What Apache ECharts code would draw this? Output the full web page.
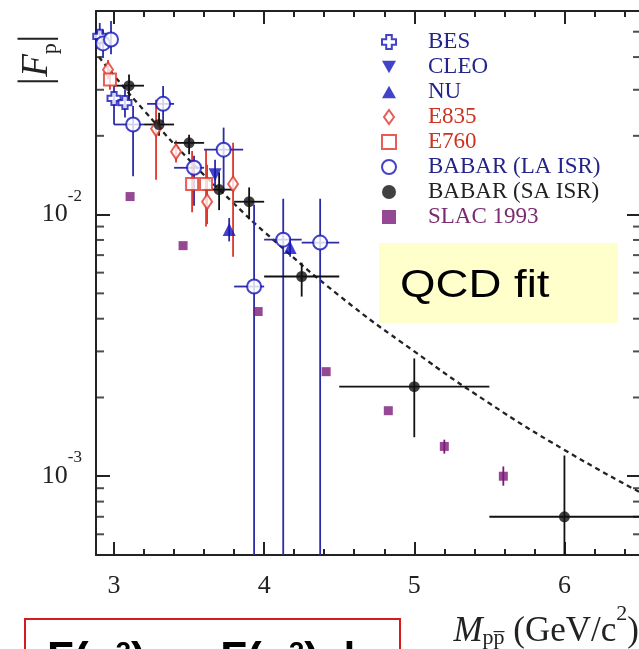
<!DOCTYPE html>
<html>
<head>
<meta charset="utf-8">
<script src="https://cdn.jsdelivr.net/npm/echarts@6/dist/echarts.min.js"></script>
<style>
html, body { margin: 0; padding: 0; background: #fff; }
#main { width: 639px; height: 649px; }
</style>
</head>
<body>
<div id="main"></div>
<script>
// each row: [M, |F|, xLow, xHigh, yLow, yHigh]  (null = no bar)
var bes = [
  [2.905, 0.048, null, null, 0.043, 0.054],
  [3.0, 0.0278, null, null, 0.0221, 0.0310],
  [3.073, 0.0268, null, null, 0.0235, 0.0300]
];
var cleo = [
  [3.673, 0.0142, null, null, 0.0128, 0.0162]
];
var nu = [
  [3.767, 0.00877, null, null, 0.0079, 0.0097],
  [4.173, 0.00748, null, null, 0.0069, 0.0081]
];
var e835 = [
  [2.96, 0.0358, null, null, 0.033, 0.039],
  [3.28, 0.0213, null, null, 0.0136, 0.0275],
  [3.413, 0.0174, null, null, 0.0158, 0.0192],
  [3.62, 0.0112, null, null, 0.0092, 0.0155],
  [3.793, 0.0131, null, null, 0.0069, 0.0188]
];
var e760 = [
  [2.973, 0.0328, null, null, 0.030, 0.036],
  [3.52, 0.0131, null, null, 0.0102, 0.0175],
  [3.613, 0.0131, null, null, 0.0090, 0.0177]
];
var babarLA = [
  [2.927, 0.0451, 2.88, 2.97, 0.040, 0.051],
  [2.98, 0.0467, null, null, 0.041, 0.055],
  [3.127, 0.0221, 3.0, 3.2, 0.0140, 0.026],
  [3.327, 0.0265, 3.22, 3.4, 0.0225, 0.031],
  [3.533, 0.0151, 3.4, 3.6, 0.0108, 0.0168],
  [3.73, 0.0177, 3.6, 3.86, 0.0122, 0.0215],
  [3.933, 0.00531, 3.8, 4.0, 0.0001, 0.0109],
  [4.127, 0.00802, 4.0, 4.25, 0.0001, 0.0115],
  [4.373, 0.00782, 4.25, 4.5, 0.0001, 0.0115]
];
var babarSA = [
  [3.1, 0.0311, 3.0, 3.2, 0.0275, 0.0343],
  [3.3, 0.0221, 3.2, 3.4, 0.0200, 0.0245],
  [3.5, 0.0188, 3.4, 3.6, 0.0170, 0.0202],
  [3.7, 0.01246, 3.6, 3.8, 0.0104, 0.0145],
  [3.9, 0.0112, 3.8, 4.0, 0.0096, 0.0127],
  [4.25, 0.0058, 4.0, 4.5, 0.00486, 0.00655],
  [5.0, 0.0022, 4.5, 5.5, 0.00141, 0.00282],
  [6.0, 0.0007, 5.5, 7.0, 0.0001, 0.0012]
];
var slac = [
  [3.107, 0.01172, null, null, null, null],
  [3.46, 0.00761, null, null, null, null],
  [3.96, 0.00426, null, null, null, null],
  [4.413, 0.00251, null, null, null, null],
  [4.827, 0.00178, null, null, null, null],
  [5.2, 0.0013, null, null, 0.00122, 0.00138],
  [5.593, 0.001, null, null, 0.00092, 0.00109]
];
// QCD fit curve
var qcdX = [2.9, 3.0, 3.2, 3.5, 3.8, 4.0, 4.5, 5.0, 5.5, 6.0, 6.5];
var qcdY = [0.040, 0.034, 0.025, 0.0162, 0.0110, 0.0086, 0.0049, 0.0030, 0.0019, 0.00126, 0.00087];

var xMin = 2.88, xMax = 6.51;
var yMin = 5e-4, yMax = 0.06;
var yMinorTicks = [6e-4, 7e-4, 8e-4, 9e-4, 2e-3, 3e-3, 4e-3, 5e-3, 6e-3, 7e-3, 8e-3, 9e-3, 2e-2, 3e-2, 4e-2, 5e-2];

var blue = '#1414bc', blueLine = '#2c2ca6', red = '#e0352a', black = '#111', purple = '#7b1a78';
var serif = '"Liberation Serif", "Times New Roman", serif';
var crossPath = 'path://M3,0 H7 V3 H10 V7 H7 V10 H3 V7 H0 V3 H3 Z';
var downTri = 'path://M0,0 L10,0 L5,9 Z';
var upTri = 'path://M5,0 L10,9 L0,9 Z';
var diamond = 'path://M5,0 L10,7 L5,14 L0,7 Z';
var square = 'path://M0,0 H10 V10 H0 Z';

var dom = document.getElementById('main');
var myChart = echarts.init(dom, null, { renderer: 'canvas' });

function errRender(color) {
  return function (params, api) {
    var x = api.value(0), y = api.value(1);
    var xl = api.value(2), xh = api.value(3), yl = api.value(4), yh = api.value(5);
    var kids = [];
    var st = { stroke: color, lineWidth: 1.8 };
    if (isFinite(xl) && isFinite(xh)) {
      var a = api.coord([xl, y]), b = api.coord([xh, y]);
      kids.push({ type: 'line', shape: { x1: a[0], y1: a[1], x2: b[0], y2: b[1] }, style: st });
    }
    if (isFinite(yl) && isFinite(yh)) {
      var c = api.coord([x, yl]), d = api.coord([x, yh]);
      kids.push({ type: 'line', shape: { x1: c[0], y1: c[1], x2: d[0], y2: d[1] }, style: st });
    }
    return { type: 'group', children: kids };
  };
}

function errSeries(name, rows, color) {
  return {
    name: name + ' err',
    type: 'custom',
    clip: true,
    silent: true,
    z: 2,
    dimensions: ['x', 'y', 'xl', 'xh', 'yl', 'yh'],
    encode: { x: 0, y: 1 },
    renderItem: errRender(color),
    data: rows
  };
}

function pointSeries(name, rows, symbol, size, itemStyle) {
  return {
    name: name,
    type: 'scatter',
    symbol: symbol,
    symbolSize: size,
    itemStyle: itemStyle,
    z: 4,
    data: rows.map(function (r) { return [r[0], r[1]]; })
  };
}

var hollowBlue = { color: '#fff', borderColor: blue, borderWidth: 2 };
var hollowRed = { color: '#fff', borderColor: red, borderWidth: 2 };

var tickStyle = { color: '#222', width: 2 };
function xAxisDef(pos, major) {
  return {
    type: 'value', min: xMin, max: xMax, position: pos,
    splitNumber: major ? 4 : 18,
    axisLine: { show: major, onZero: false, lineStyle: { color: '#222', width: 2 } },
    axisTick: { show: true, inside: true, length: major ? 13 : 6, lineStyle: tickStyle },
    axisLabel: {
      show: major && pos === 'bottom',
      margin: 18,
      fontFamily: serif, fontSize: 26, color: '#222',
      formatter: function (v) {
        return Math.abs(v - Math.round(v)) < 1e-6 ? String(Math.round(v)) : '';
      }
    },
    splitLine: { show: false }
  };
}
function yAxisDef(pos) {
  return {
    type: 'log', logBase: 10, min: yMin, max: yMax, position: pos,
    axisLine: { show: true, onZero: false, lineStyle: { color: '#222', width: 2 } },
    axisTick: { show: true, inside: true, length: 14, lineStyle: tickStyle },
    axisLabel: {
      show: pos === 'left',
      margin: 14,
      padding: [0, 0, 14, 0],
      formatter: function (v) {
        var l = Math.log(v) / Math.LN10, e = Math.round(l);
        if (Math.abs(l - e) > 1e-6) return '';
        return '{b|10}{s|' + e + '}';
      },
      rich: {
        b: { fontFamily: serif, fontSize: 26, color: '#222', verticalAlign: 'bottom', lineHeight: 26 },
        s: { fontFamily: serif, fontSize: 17, color: '#222', verticalAlign: 'top', lineHeight: 40 }
      }
    },
    splitLine: { show: false }
  };
}

function legendItem(name, icon, itemStyle, color) {
  return { name: name, icon: icon, itemStyle: itemStyle, textStyle: { color: color } };
}

var option = {
  animation: false,
  backgroundColor: '#fff',
  grid: { left: 96, top: 11, right: -2, bottom: 94, containLabel: false, outerBoundsMode: 'none' },
  legend: {
    orient: 'vertical',
    left: 376, top: 25,
    itemWidth: 14, itemHeight: 14, itemGap: 1,
    // pad pushes the labels right of the icon column
    formatter: '{pad| }{name}',
    textStyle: {
      fontFamily: serif, fontSize: 23, lineHeight: 24,
      rich: { pad: { width: 27, fontSize: 23, lineHeight: 24 } }
    },
    data: [
      legendItem('BES', crossPath, hollowBlue, '#24248a'),
      legendItem('CLEO', downTri, { color: blue }, '#24248a'),
      legendItem('NU', upTri, { color: blue }, '#24248a'),
      legendItem('E835', diamond, hollowRed, '#cc3322'),
      legendItem('E760', square, hollowRed, '#cc3322'),
      legendItem('BABAR (LA ISR)', 'circle', hollowBlue, '#24248a'),
      legendItem('BABAR (SA ISR)', 'circle', { color: black }, '#222'),
      legendItem('SLAC 1993', square, { color: purple }, '#7a2a6e')
    ]
  },
  xAxis: [xAxisDef('bottom', true), xAxisDef('bottom', false), xAxisDef('top', true), xAxisDef('top', false)],
  yAxis: [yAxisDef('left'), yAxisDef('right')],
  series: [
    {
      name: 'QCD fit', type: 'line', smooth: true, symbol: 'none', z: 1,
      lineStyle: { color: '#222', width: 2.3, type: [5, 4] },
      data: qcdX.map(function (x, i) { return [x, qcdY[i]]; })
    },
    {
      name: 'ytick-left', type: 'scatter', silent: true, z: 1,
      symbol: 'rect', symbolSize: [8, 2], symbolOffset: [4, 0],
      itemStyle: { color: '#222' },
      data: yMinorTicks.map(function (v) { return [xMin, v]; })
    },
    {
      name: 'ytick-right', type: 'scatter', silent: true, z: 1,
      symbol: 'rect', symbolSize: [8, 2], symbolOffset: [-4, 0],
      itemStyle: { color: '#222' },
      data: yMinorTicks.map(function (v) { return [xMax, v]; })
    },
    errSeries('BES', bes, blueLine),
    errSeries('CLEO', cleo, blueLine),
    errSeries('NU', nu, blueLine),
    errSeries('E835', e835, red),
    errSeries('E760', e760, red),
    errSeries('BABAR (LA ISR)', babarLA, blueLine),
    errSeries('BABAR (SA ISR)', babarSA, black),
    errSeries('SLAC 1993', slac, purple),
    pointSeries('BES', bes, crossPath, 13, hollowBlue),
    pointSeries('CLEO', cleo, downTri, 13, { color: blue }),
    pointSeries('NU', nu, upTri, 13, { color: blue }),
    pointSeries('E835', e835, diamond, [10, 15], hollowRed),
    pointSeries('E760', e760, square, 12, hollowRed),
    pointSeries('BABAR (LA ISR)', babarLA, 'circle', 14, hollowBlue),
    pointSeries('BABAR (SA ISR)', babarSA, 'circle', 11, { color: black }),
    pointSeries('SLAC 1993', slac, square, 9, { color: purple })
  ],
  graphic: [
    { type: 'rect', z: 50, shape: { x: 379, y: 243, width: 239, height: 80 }, style: { fill: '#ffffcc' } },
    { type: 'text', z: 51, x: 400, y: 287, scaleX: 1.2,
      style: { text: 'QCD fit', font: '38px "Liberation Sans", Arial, sans-serif', fill: '#000', align: 'left', verticalAlign: 'middle' } },
    { type: 'rect', z: 50, shape: { x: 25, y: 619, width: 375, height: 60 }, style: { fill: '#fff', stroke: '#d41c1c', lineWidth: 2 } },
    { type: 'text', z: 51, x: 47, y: 661,
      style: {
        text: '{b|F(q}{sp|2}{b|)  ~  F(q}{sp|2}{b|)  |}',
        align: 'left', verticalAlign: 'middle',
        rich: {
          b: { font: 'bold 44px "Liberation Sans", Arial, sans-serif', fill: '#000', lineHeight: 44 },
          sp: { font: 'bold 28px "Liberation Sans", Arial, sans-serif', fill: '#000', verticalAlign: 'top' }
        }
      } },
    { type: 'text', z: 51, x: 639, y: 626,
      style: {
        text: '{m|M}{sub|pp\u0305}{n| (GeV/c}{sup|2}{n|)}',
        align: 'right', verticalAlign: 'middle',
        rich: {
          m: { font: 'italic 35px ' + serif, fill: '#222', lineHeight: 35, verticalAlign: 'bottom' },
          n: { font: '35px ' + serif, fill: '#222', lineHeight: 35, verticalAlign: 'bottom' },
          sub: { font: '22px ' + serif, fill: '#222', lineHeight: 22, verticalAlign: 'bottom' },
          sup: { font: '22px ' + serif, fill: '#222', lineHeight: 46, verticalAlign: 'top' }
        }
      } },
    { type: 'text', z: 51, x: 37, y: 60, rotation: Math.PI / 2,
      style: {
        text: '{b||}{f|F}{sub|p}{b||}',
        align: 'center', verticalAlign: 'middle',
        rich: {
          b: { font: '45px ' + serif, fill: '#222', lineHeight: 48 },
          f: { font: 'italic 37px ' + serif, fill: '#222', lineHeight: 48 },
          sub: { font: '22px ' + serif, fill: '#222', verticalAlign: 'bottom' }
        }
      } }
  ]
};

if (option && typeof option === 'object') {
  myChart.setOption(option);
}
</script>
</body>
</html>
